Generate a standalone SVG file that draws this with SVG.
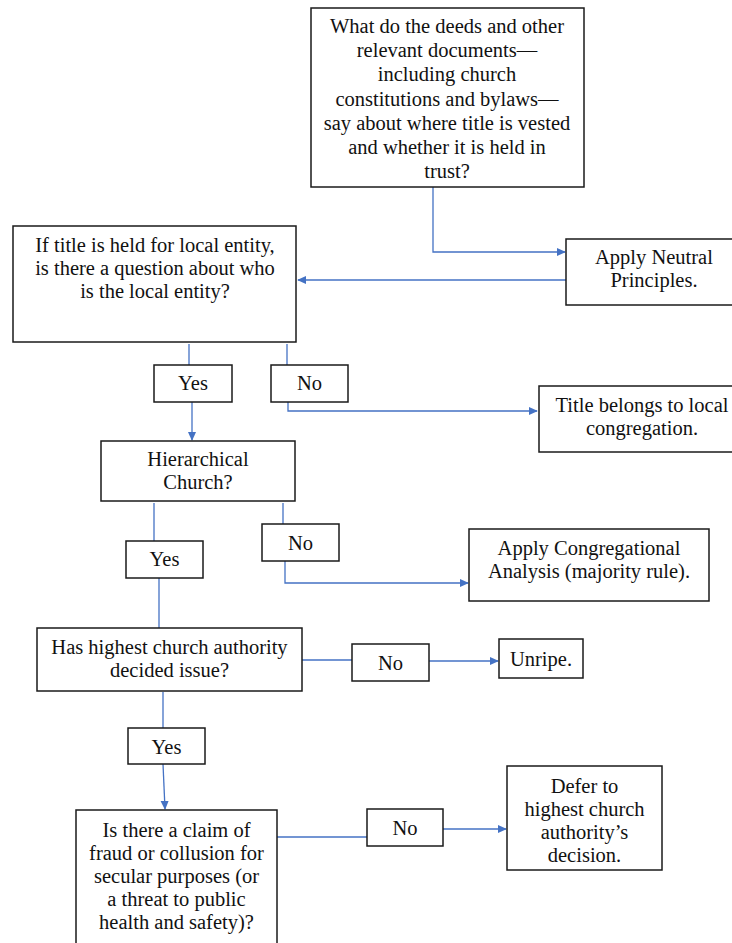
<svg xmlns="http://www.w3.org/2000/svg" width="732" height="943" viewBox="0 0 732 943">
<style>
.box{fill:#fff;stroke:#1a1a1a;stroke-width:1.5}
.t{font-family:"Liberation Serif","Times New Roman",serif;font-size:20.5px;fill:#111;text-anchor:middle}
.c{fill:none;stroke:#4472c4;stroke-width:1.3}
.a{marker-end:url(#ah)}
</style>
<defs>
<marker id="ah" viewBox="0 0 10 10" refX="9" refY="5" markerWidth="9" markerHeight="9" markerUnits="userSpaceOnUse" orient="auto">
<path d="M0,0.5 L10,5 L0,9.5 z" fill="#4472c4"/>
</marker>
</defs>
<rect width="732" height="943" fill="#fff"/>
<g id="connectors">
<path class="c a" d="M433,187 V252 H565"/>
<path class="c a" d="M566,280 H298"/>
<path class="c" d="M189,344 V365"/>
<path class="c" d="M287,344 V365"/>
<path class="c a" d="M288,402 V411 H537"/>
<path class="c a" d="M192,402 V440"/>
<path class="c" d="M154,503 V541"/>
<path class="c" d="M283,503 V524"/>
<path class="c a" d="M285,561 V583 H468"/>
<path class="c" d="M159,578 V628"/>
<path class="c" d="M302,660 H352"/>
<path class="c a" d="M429,661 H498"/>
<path class="c" d="M163,692 V728"/>
<path class="c a" d="M163,764 L165,809"/>
<path class="c" d="M277,837 H367"/>
<path class="c a" d="M443,829 H506"/>
</g>
<g id="n-deeds">
<rect class="box" x="311" y="8" width="273" height="179"/>
<text class="t" x="447" y="33">What do the deeds and other</text>
<text class="t" x="447" y="57">relevant documents—</text>
<text class="t" x="447" y="81">including church</text>
<text class="t" x="447" y="106">constitutions and bylaws—</text>
<text class="t" x="447" y="130">say about where title is vested</text>
<text class="t" x="447" y="154">and whether it is held in</text>
<text class="t" x="447" y="178">trust?</text>
</g>
<g id="n-neutral">
<rect class="box" x="566" y="239" width="180" height="66"/>
<text class="t" x="654" y="264">Apply Neutral</text>
<text class="t" x="654" y="287">Principles.</text>
</g>
<g id="n-local">
<rect class="box" x="13" y="226" width="283" height="116"/>
<text class="t" x="155" y="252">If title is held for local entity,</text>
<text class="t" x="155" y="275">is there a question about who</text>
<text class="t" x="155" y="298">is the local entity?</text>
</g>
<g id="n-yes1">
<rect class="box" x="154" y="365" width="78" height="37"/>
<text class="t" x="193" y="390">Yes</text>
</g>
<g id="n-no1">
<rect class="box" x="271" y="365" width="77" height="37"/>
<text class="t" x="309.5" y="390">No</text>
</g>
<g id="n-title">
<rect class="box" x="539" y="386" width="205" height="66"/>
<text class="t" x="642" y="412">Title belongs to local</text>
<text class="t" x="642" y="435">congregation.</text>
</g>
<g id="n-hier">
<rect class="box" x="101" y="441" width="194" height="60"/>
<text class="t" x="198" y="466">Hierarchical</text>
<text class="t" x="198" y="489">Church?</text>
</g>
<g id="n-yes2">
<rect class="box" x="126" y="541" width="77" height="37"/>
<text class="t" x="164.5" y="566">Yes</text>
</g>
<g id="n-no2">
<rect class="box" x="262" y="524" width="77" height="37"/>
<text class="t" x="300.5" y="550">No</text>
</g>
<g id="n-congr">
<rect class="box" x="469" y="529" width="240" height="72"/>
<text class="t" x="589" y="555">Apply Congregational</text>
<text class="t" x="589" y="578">Analysis (majority rule).</text>
</g>
<g id="n-highest">
<rect class="box" x="37" y="628" width="265" height="63"/>
<text class="t" x="169.5" y="654">Has highest church authority</text>
<text class="t" x="169.5" y="677">decided issue?</text>
</g>
<g id="n-no3">
<rect class="box" x="352" y="644" width="77" height="37"/>
<text class="t" x="390.5" y="670">No</text>
</g>
<g id="n-unripe">
<rect class="box" x="499" y="639" width="84" height="39"/>
<text class="t" x="541" y="666">Unripe.</text>
</g>
<g id="n-yes3">
<rect class="box" x="128" y="728" width="77" height="36"/>
<text class="t" x="166.5" y="754">Yes</text>
</g>
<g id="n-fraud">
<rect class="box" x="76" y="810" width="201" height="140"/>
<text class="t" x="176.5" y="837">Is there a claim of</text>
<text class="t" x="176.5" y="860">fraud or collusion for</text>
<text class="t" x="176.5" y="883">secular purposes (or</text>
<text class="t" x="176.5" y="906">a threat to public</text>
<text class="t" x="176.5" y="929">health and safety)?</text>
</g>
<g id="n-no4">
<rect class="box" x="367" y="809" width="76" height="37"/>
<text class="t" x="405" y="835">No</text>
</g>
<g id="n-defer">
<rect class="box" x="507" y="766" width="155" height="104"/>
<text class="t" x="584.5" y="793">Defer to</text>
<text class="t" x="584.5" y="816">highest church</text>
<text class="t" x="584.5" y="839">authority’s</text>
<text class="t" x="584.5" y="862">decision.</text>
</g>
</svg>
